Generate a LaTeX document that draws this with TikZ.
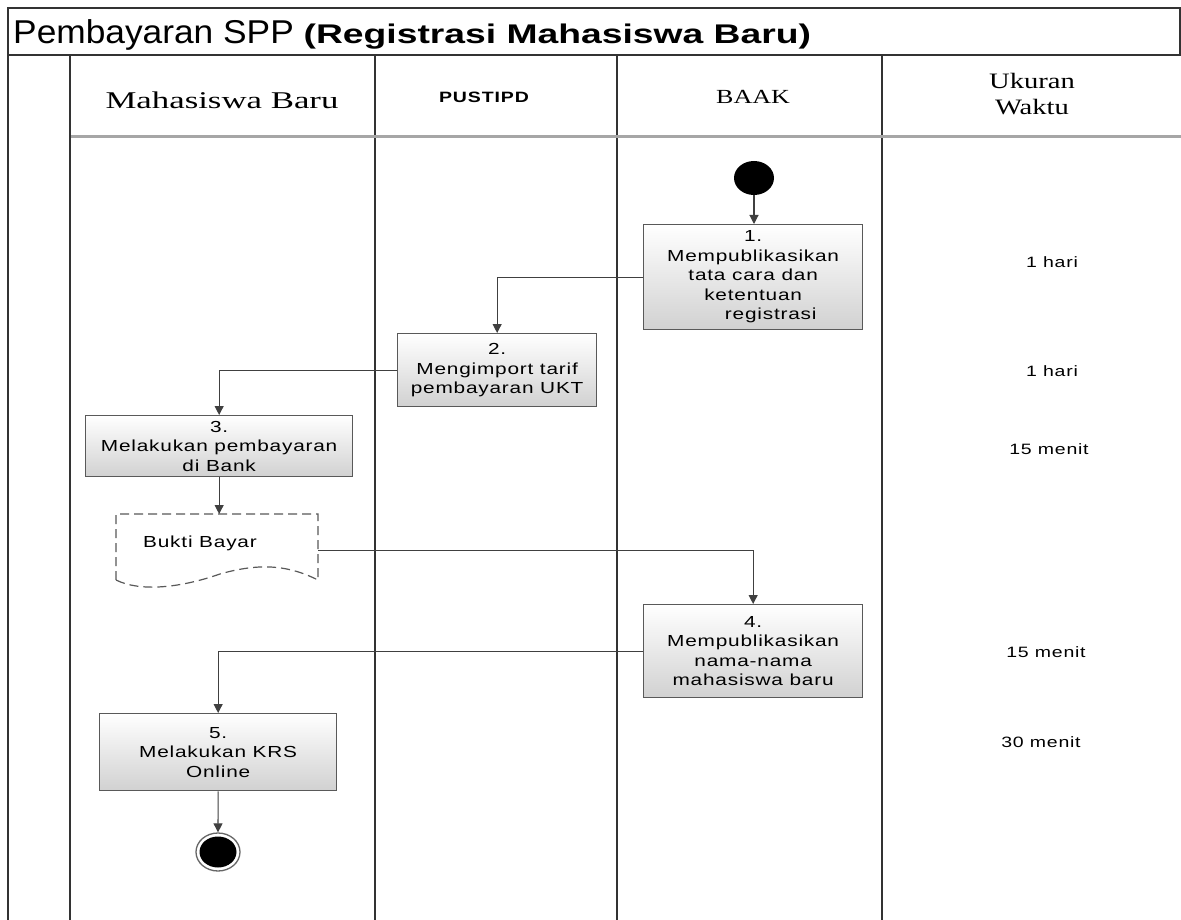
\documentclass[tikz,border=0pt]{standalone}
\usepackage{fontspec}
\setmainfont{Liberation Serif}
\setsansfont{Liberation Sans}
\newfontfamily\boxfont[FakeStretch=1.3,LetterSpace=5]{Liberation Sans}
\newfontfamily\titlefont[FakeStretch=1.07]{Liberation Sans}
\newfontfamily\titleboldfont[FakeStretch=1.38]{Liberation Sans}
\newfontfamily\pustfont[FakeStretch=1.3,LetterSpace=6]{Liberation Sans}
\newfontfamily\hdrfont[FakeStretch=1.3]{Liberation Serif}
\newfontfamily\hdrwidefont[FakeStretch=1.45]{Liberation Serif}
\usetikzlibrary{arrows.meta,shapes.geometric}
\begin{document}
\begin{tikzpicture}[x=1pt,y=-1pt,
  frame/.style={draw=black!80,line width=1.4pt},
  stepbox/.style={draw=black!65,line width=1.3pt,top color=white,bottom color=black!18,
    font=\boxfont\fontsize{16}{19.5}\selectfont,align=center,inner sep=1pt,anchor=north west},
  conn/.style={draw=black!75,line width=1.1pt,-{Triangle[length=9pt,width=9pt]}},
  hdr/.style={font=\hdrfont\fontsize{22}{26}\selectfont,align=center},
  tm/.style={font=\boxfont\fontsize{15}{17}\selectfont},
  docline/.style={draw=black!65,line width=1.2pt,dash pattern=on 9pt off 5pt}]
\useasboundingbox (0,0) rectangle (1181,920);
\fill[white] (0,0) rectangle (1181,920);
% frame
\draw[frame] (1180,55) -- (1180,8) -- (8,8) -- (8,920);
\draw[frame] (8,55) -- (1181,55);
\draw[frame] (70,55) -- (70,920);
\draw[frame] (375,55) -- (375,920);
\draw[frame] (617,55) -- (617,920);
\draw[frame] (882,55) -- (882,920);
\draw[black!35,line width=3pt] (71,137) -- (1181,137);
% title
\node[anchor=base west,inner sep=0] (title) at (13,44)
  {\titlefont\fontsize{33}{36}\selectfont Pembayaran SPP \titleboldfont\bfseries\fontsize{27}{30}\selectfont(Registrasi Mahasiswa Baru)};
% headers
\node[font=\hdrwidefont\fontsize{24}{26}\selectfont] (h1) at (222,100) {Mahasiswa Baru};
\node[font=\pustfont\bfseries\fontsize{15}{16}\selectfont] (h2) at (484,97) {PUSTIPD};
\node[font=\hdrfont\fontsize{20}{24}\selectfont] (h3) at (753,97) {BAAK};
\node[hdr] (h4) at (1032,94) {Ukuran\\Waktu};
% start
\node[ellipse,fill=black,minimum width=40pt,minimum height=34pt,inner sep=0] (start) at (754,178) {};
% boxes
\node[stepbox,minimum width=219pt,minimum height=105pt] (b1) at (643,224)
  {1.\\Mempublikasikan\\tata cara dan\\ketentuan\\\hspace*{2.2em}registrasi};
\node[stepbox,minimum width=199pt,minimum height=73pt] (b2) at (397,333)
  {2.\\Mengimport tarif\\pembayaran UKT};
\node[stepbox,minimum width=267pt,minimum height=61pt] (b3) at (85,415)
  {3.\\Melakukan pembayaran\\di Bank};
\node[minimum width=202pt,minimum height=72pt,inner sep=0,anchor=north west] (doc) at (116,514) {};
\draw[docline] (116,580) -- (116,514) -- (318,514) -- (318,580)
  .. controls (290,566) and (262,562) .. (220,574)
  .. controls (180,588) and (140,592) .. (116,580);
\node[font=\boxfont\fontsize{16}{18}\selectfont] (doctext) at (200,543) {Bukti Bayar};
\node[stepbox,minimum width=219pt,minimum height=93pt] (b4) at (643,604)
  {4.\\Mempublikasikan\\nama-nama\\mahasiswa baru};
\node[stepbox,minimum width=237pt,minimum height=77pt] (b5) at (99,713)
  {5.\\Melakukan KRS\\Online};
% end
\node[ellipse,draw=black!60,line width=1.3pt,minimum width=44pt,minimum height=38pt,inner sep=0] (endc) at (218,852) {};
\node[ellipse,fill=black,minimum width=37pt,minimum height=31pt,inner sep=0] (endi) at (218,852) {};
% connectors
\draw[conn] (start.south) -- (start.south |- b1.north);
\draw[conn] (b1.west) -| (b2.north);
\draw[conn] (b2.west) -| (b3.north);
\draw[conn] (b3.south) -- (b3.south |- doc.north);
\draw[conn] (doc.east) -| (b4.north);
\draw[conn] (b4.west) -| (b5.north);
\draw[conn] (b5.south) -- (endc.north);
% times
\node[tm] (t1) at (1052,262) {1 hari};
\node[tm] (t2) at (1052,371) {1 hari};
\node[tm] (t3) at (1049,449) {15 menit};
\node[tm] (t4) at (1046,652) {15 menit};
\node[tm] (t5) at (1041,742) {30 menit};
\end{tikzpicture}
\end{document}
